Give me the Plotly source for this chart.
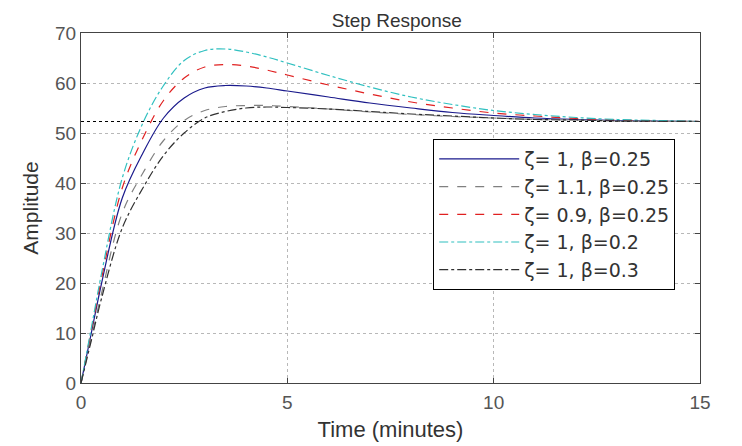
import plotly.graph_objects as go

# time samples (minutes) and amplitude
t = [0, 0.25, 0.5, 1, 1.5, 2, 2.5, 3, 3.5, 4, 4.5, 5, 6, 7, 8, 9, 10, 11, 12, 13, 14, 15]

y_z1_b025 = [0, 10, 20, 37, 46, 53, 57, 59, 59.5, 59.4, 59, 58.4, 57.2, 56, 55, 54.1, 53.5, 53, 52.7, 52.5, 52.4, 52.3]
y_z11_b025 = [0, 9, 18, 34, 42, 48.5, 52.5, 54.5, 55.3, 55.5, 55.5, 55.3, 54.8, 54.2, 53.7, 53.3, 53, 52.7, 52.6, 52.4, 52.35, 52.3]
y_z09_b025 = [0, 10.5, 21, 39, 49, 56.5, 61, 63.2, 63.7, 63.4, 62.6, 61.6, 59.6, 57.8, 56.2, 55, 54, 53.4, 52.9, 52.6, 52.4, 52.3]
y_z1_b02 = [0, 11, 22, 41, 52, 59.5, 64.5, 66.5, 66.8, 66.2, 65.2, 64, 61.5, 59.2, 57.2, 55.7, 54.5, 53.7, 53.1, 52.7, 52.5, 52.3]
y_z1_b03 = [0, 8.5, 17, 31, 39, 45.5, 50, 53, 54.3, 55, 55.2, 55.1, 54.8, 54.3, 53.8, 53.4, 53, 52.7, 52.6, 52.4, 52.35, 52.3]

final_value = 52.3
t_range = [0, 15]

series = [
    ("ζ= 1, β=0.25", y_z1_b025, "#1a1a8c", "solid"),
    ("ζ= 1.1, β=0.25", y_z11_b025, "#808080", "dash"),
    ("ζ= 0.9, β=0.25", y_z09_b025, "#e02020", "dash"),
    ("ζ= 1, β=0.2", y_z1_b02, "#30c0c0", "dashdot"),
    ("ζ= 1, β=0.3", y_z1_b03, "#303030", "dashdot"),
]

fig = go.Figure()

fig.add_trace(go.Scatter(x=t_range, y=[final_value, final_value], mode="lines",
                         line=dict(color="black", width=1.2, dash="dot"),
                         showlegend=False, hoverinfo="skip"))

for i, (name, ys, color, dash) in enumerate(series):
    fig.add_trace(go.Scatter(x=t, y=ys, mode="lines", name=name,
                             line=dict(color=color, width=1.2, dash=dash, shape="spline"),
                             legendgroup="g%d" % i))

axis_common = dict(showline=True, linecolor="#444", linewidth=1, mirror="ticks",
                   ticks="inside", ticklen=5, tickcolor="#444",
                   showgrid=True, gridcolor="#b8b8b8", griddash="dot", gridwidth=1,
                   zeroline=False, automargin=False,
                   tickfont=dict(size=19, color="#555"))

fig.update_layout(
    width=742, height=446,
    margin=dict(l=73, r=50, t=25, b=71),
    paper_bgcolor="white", plot_bgcolor="white",
    font=dict(family="Liberation Sans, Arial, sans-serif", color="#333"),
    title=dict(text="Step Response", x=0.524, xanchor="center", y=0.972, yanchor="middle",
               font=dict(size=19, color="#333")),
    xaxis=dict(range=t_range, dtick=5, ticklabelstandoff=2,
               title=dict(text="Time (minutes)", font=dict(size=22, color="#333"), standoff=9),
               **axis_common),
    yaxis=dict(range=[0, 70], dtick=10,
               title=dict(text="Amplitude", font=dict(size=21, color="#333"), standoff=10),
               **axis_common),
    legend=dict(x=0.569, y=0.697, xanchor="left", yanchor="top",
                bgcolor="white", bordercolor="black", borderwidth=1,
                font=dict(family="DejaVu Sans, sans-serif", size=19, color="#333"),
                tracegroupgap=0, itemwidth=80),
)

fig.write_html("out.html")
